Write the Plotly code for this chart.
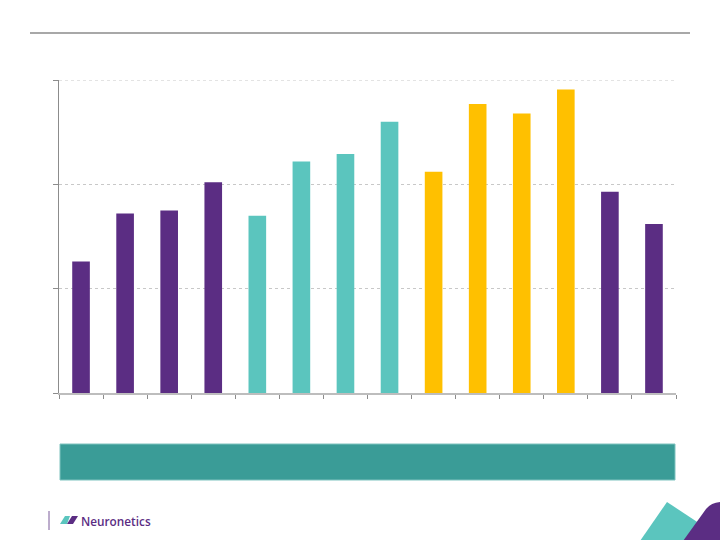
import plotly.graph_objects as go

categories = [str(i) for i in range(1, 15)]
values = [1.26, 1.72, 1.75, 2.02, 1.70, 2.22, 2.29, 2.60, 2.12, 2.77, 2.68, 2.91, 1.93, 1.62]
PURPLE = "#5B2D83"
TEAL = "#5BC5BE"
YELLOW = "#FFC000"
bar_colors = [PURPLE]*4 + [TEAL]*4 + [YELLOW]*4 + [PURPLE]*2

W, H = 720, 540
ML, MR, MT, MB = 59, 44, 80, 147

def px(x):
    return (x - ML) / (W - ML - MR)

def py(y):
    return (H - MB - y) / (H - MT - MB)

fig = go.Figure(go.Bar(
    x=categories, y=values, marker=dict(color=bar_colors, line=dict(width=0)),
    width=0.4, hoverinfo="skip"))

shapes = []
# top rule
shapes.append(dict(type="line", xref="paper", yref="paper", x0=px(30), x1=px(690), y0=py(33), y1=py(33),
                   line=dict(color="#A8A8A8", width=2)))
# top gridline (at axis max)
shapes.append(dict(type="line", xref="paper", yref="y", x0=0, x1=1, y0=3, y1=3,
                   line=dict(color="#C8C8C8", width=1, dash="dot"), layer="below"))
# banner
shapes.append(dict(type="rect", xref="paper", yref="paper", x0=px(60), x1=px(675), y0=py(444), y1=py(480),
                   fillcolor="#3A9C97", line=dict(color="#7FC3BF", width=1), layer="above"))
# logo separator
shapes.append(dict(type="line", xref="paper", yref="paper", x0=px(49), x1=px(49), y0=py(511), y1=py(530),
                   line=dict(color="#7A5A9A", width=1)))
# logo icon
def path(pts):
    s = "M " + " L ".join(f"{px(a)},{py(b)}" for a, b in pts) + " Z"
    return s
shapes.append(dict(type="path", xref="paper", yref="paper", path=path([(60, 524), (65, 516), (70, 516), (67, 524)]),
                   fillcolor=TEAL, line=dict(width=0)))
shapes.append(dict(type="path", xref="paper", yref="paper", path=path([(67, 524), (72, 516), (78, 516), (73, 524)]),
                   fillcolor=PURPLE, line=dict(width=0)))
# corner shapes
shapes.append(dict(type="path", xref="paper", yref="paper", path=path([(640, 541), (667, 502), (726, 541)]),
                   fillcolor=TEAL, line=dict(width=0)))
purple_path = (f"M {px(683)},{py(541)} L {px(706)},{py(509)} "
               f"Q {px(712)},{py(502)} {px(722)},{py(502)} L {px(722)},{py(541)} Z")
shapes.append(dict(type="path", xref="paper", yref="paper", path=purple_path,
                   fillcolor=PURPLE, line=dict(width=0)))

fig.update_layout(
    width=W, height=H, margin=dict(l=ML, r=MR, t=MT, b=MB),
    paper_bgcolor="white", plot_bgcolor="white", showlegend=False,
    shapes=shapes,
    annotations=[dict(text="Neuronetics", xref="paper", yref="paper", x=px(79), y=py(520.5),
                      xanchor="left", yanchor="middle", showarrow=False,
                      font=dict(family="Open Sans", size=11.8, color=PURPLE, weight=600))],
    xaxis=dict(type="category", range=[-0.5, 13.5], showticklabels=False, showgrid=False,
               showline=True, linecolor="#BDBDBD", linewidth=2, ticks="outside", tickson="boundaries",
               ticklen=4, tickcolor="#8C8C8C", tickwidth=1, zeroline=False),
    yaxis=dict(range=[0, 3], tickvals=[0, 1, 2, 3], showticklabels=False,
               showgrid=True, gridcolor="#C8C8C8", griddash="dot", gridwidth=1,
               showline=True, linecolor="#8C8C8C", linewidth=1, ticks="outside", ticklen=5,
               tickcolor="#8C8C8C", zeroline=False),
)

fig.write_html("out.html")
